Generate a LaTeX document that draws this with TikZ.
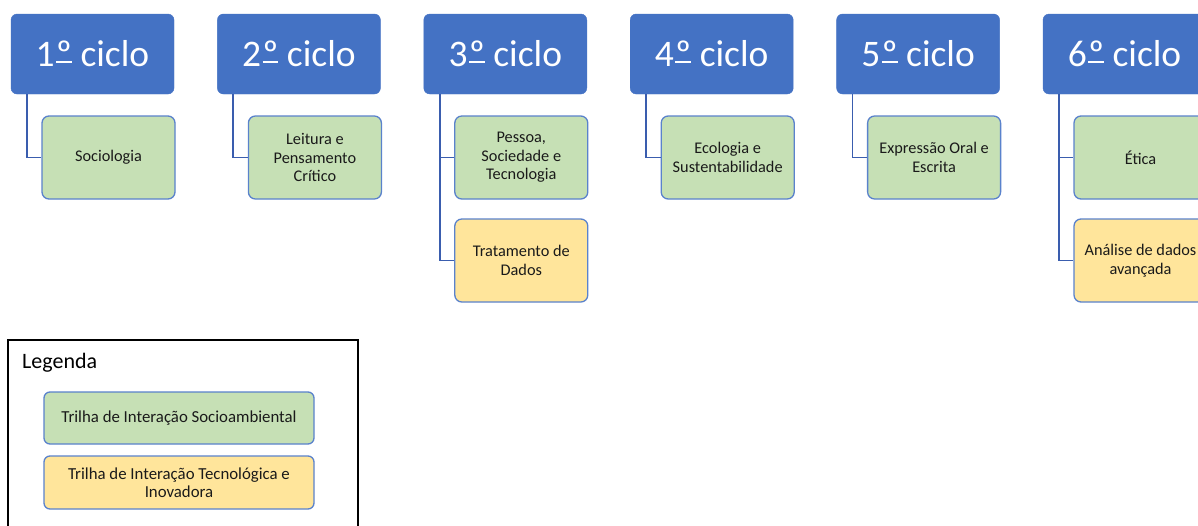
\documentclass[tikz,border=0pt]{standalone}
\usepackage{fontspec}
\setmainfont{Carlito}
\definecolor{hdrblue}{HTML}{4472C4}
\definecolor{linkblue}{HTML}{3A5DAE}
\definecolor{boxedge}{HTML}{5A82CC}
\definecolor{greenfill}{HTML}{C6E0B5}
\definecolor{yellowfill}{HTML}{FFE59B}
\definecolor{txt}{HTML}{1A1A1A}
\newcommand\uordm{\kern0.04em\setbox0\hbox{º}\rlap{\rule[0.1em]{\wd0}{0.05em}}\box0}
\tikzset{
  hdr/.style={draw=hdrblue, fill=hdrblue, rounded corners=6pt, minimum width=163pt, minimum height=80pt, inner sep=0pt, text=white, font=\fontsize{37.5}{40}\selectfont},
  sub/.style={draw=boxedge, line width=1.3pt, rounded corners=7pt, minimum width=133pt, minimum height=83pt, inner sep=0pt, align=center, text=txt, font=\fontsize{16.3}{18.5}\selectfont},
  gbox/.style={sub, fill=greenfill},
  ybox/.style={sub, fill=yellowfill},
  lgbox/.style={draw=boxedge, line width=1.3pt, rounded corners=6pt, minimum width=270pt, inner sep=0pt, align=center, text=txt, font=\fontsize{16.8}{18.5}\selectfont},
  link/.style={draw=linkblue, line width=1.8pt},
}
\begin{document}
\begin{tikzpicture}[x=1pt,y=-1pt]
\useasboundingbox (0,0) rectangle (1198,525);
\clip (0,0) rectangle (1198,525);
\fill[white] (0,0) rectangle (1198,525);
% headers
\foreach \i/\lab in {0/1,1/2,2/3,3/4,4/5,5/6}{
  \node[hdr] (h\i) at ({11+206.4*\i+81.5},54) {\lab\uordm{} ciclo};
}
% children
\node[gbox] (c0) at ({11+0*206.4+97.5},157.5) {Sociologia};
\node[gbox] (c1) at ({11+1*206.4+97.5},157.5) {Leitura e\\Pensamento\\Crítico};
\node[gbox] (c2a) at ({11+2*206.4+97.5},157.5) {Pessoa,\\Sociedade e\\Tecnologia};
\node[ybox] (c2b) at ({11+2*206.4+97.5},260.5) {Tratamento de\\Dados};
\node[gbox] (c3) at ({11+3*206.4+97.5},157.5) {Ecologia e\\Sustentabilidade};
\node[gbox] (c4) at ({11+4*206.4+97.5},157.5) {Expressão Oral e\\Escrita};
\node[gbox] (c5a) at ({11+5*206.4+97.5},157.5) {Ética};
\node[ybox] (c5b) at ({11+5*206.4+97.5},260.5) {Análise de dados\\avançada};
% connectors
\foreach \h/\c in {h0/c0,h1/c1,h2/c2a,h2/c2b,h3/c3,h4/c4,h5/c5a,h5/c5b}{
  \draw[link] ([xshift=16pt]\h.south west) |- (\c.west);
}
% legend
\draw[black, line width=1.3pt] (8,540) -- (8,340) -- (358,340) -- (358,540);
\node[anchor=base west, inner sep=0pt, text=black, font=\fontsize{22}{24}\selectfont] (lt) at (22,368) {Legenda};
\node[lgbox, fill=greenfill, minimum height=52pt] (lg) at (179,418) {Trilha de Interação Socioambiental};
\node[lgbox, fill=yellowfill, minimum height=53pt] (ly) at (179,482.5) {Trilha de Interação Tecnológica e\\Inovadora};
\end{tikzpicture}
\end{document}
